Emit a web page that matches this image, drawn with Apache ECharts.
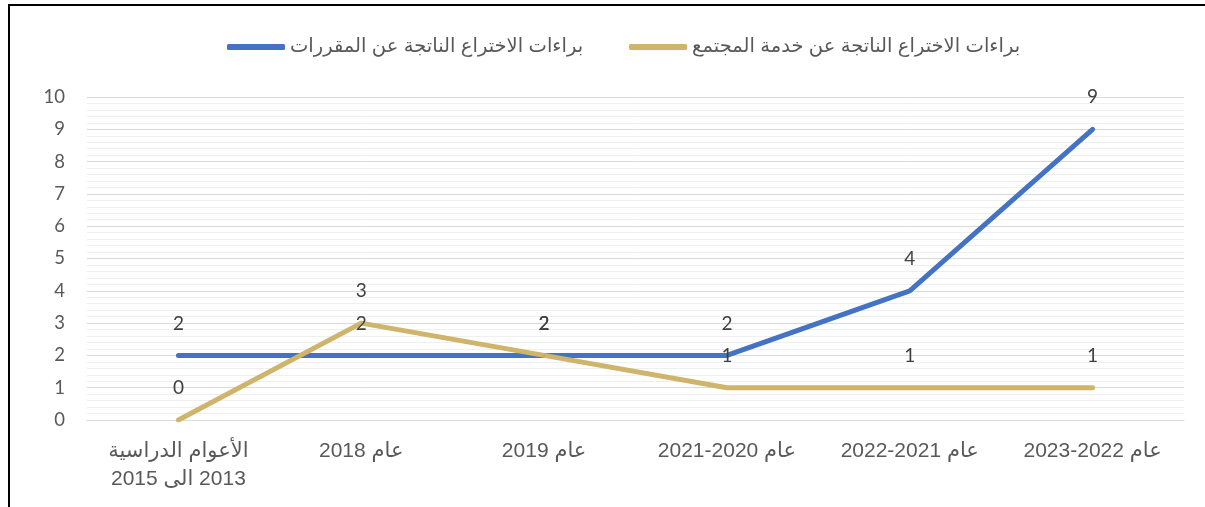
<!DOCTYPE html>
<html>
<head>
<meta charset="utf-8">
<script src="https://cdn.jsdelivr.net/npm/echarts@6/dist/echarts.min.js"></script>
<style>
  html, body { margin: 0; padding: 0; background: #fff; }
  #main { width: 1205px; height: 507px; }
</style>
</head>
<body>
<div id="main"></div>
<script>
// categories (visual order; leading LRM forces a left-to-right line)
var categories = ['الأعوام الدراسية\n\u200E2015 الى\u200E 2013', '\u200E2018 عام', '\u200E2019 عام', '\u200E2021-2020 عام', '\u200E2022-2021 عام', '\u200E2023-2022 عام']
var seriesNames = ['براءات الاختراع الناتجة عن المقررات', 'براءات الاختراع الناتجة عن خدمة المجتمع']
var coursesData = [2, 2, 2, 2, 4, 9]
var communityData = [0, 3, 2, 1, 1, 1]

var myChart = echarts.init(document.getElementById('main'))

var labelStyle = {
    show: true,
    position: 'top',
    distance: 22,
    color: '#404040',
    fontSize: 19,
    fontFamily: 'Lato, "Open Sans", sans-serif'
}

var option = {
    animation: false,
    color: ['#4472C4', '#CFB46B'],
    legend: {
        left: 222,
        top: 32,
        itemWidth: 58,
        itemHeight: 6,
        itemGap: 46,
        icon: 'roundRect',
        textStyle: {
            color: '#595959',
            fontSize: 19.5,
            fontFamily: '"Liberation Sans", "DejaVu Sans", sans-serif'
        },
        data: seriesNames
    },
    grid: {
        left: 87,
        right: 21,
        top: 97,
        bottom: 87
    },
    xAxis: {
        type: 'category',
        data: categories,
        boundaryGap: true,
        axisLine: { lineStyle: { color: '#d9d9d9', width: 1 } },
        axisTick: { show: false },
        axisLabel: {
            margin: 17,
            color: '#595959',
            fontSize: 21,
            lineHeight: 28,
            fontFamily: '"Liberation Sans", "DejaVu Sans", sans-serif',
            interval: 0
        }
    },
    yAxis: {
        type: 'value',
        min: 0,
        max: 10,
        interval: 1,
        axisLabel: {
            margin: 22,
            color: '#595959',
            fontSize: 18.5,
            fontFamily: 'Lato, "Open Sans", sans-serif'
        },
        axisLine: { show: false },
        axisTick: { show: false },
        splitLine: { lineStyle: { color: '#d9d9d9', width: 1 } },
        minorTick: { show: false, splitNumber: 5 },
        minorSplitLine: { show: true, lineStyle: { color: '#efefef', width: 1 } }
    },
    series: [{
        name: seriesNames[0],
        type: 'line',
        data: coursesData,
        symbol: 'circle',
        symbolSize: 1,
        lineStyle: { width: 5, cap: 'round', join: 'round' },
        label: labelStyle
    }, {
        name: seriesNames[1],
        type: 'line',
        data: communityData,
        symbol: 'circle',
        symbolSize: 1,
        lineStyle: { width: 5, cap: 'round', join: 'round' },
        label: labelStyle
    }],
    graphic: [{
        type: 'line',
        shape: { x1: 8, y1: 5, x2: 1205, y2: 5 },
        style: { stroke: '#000', lineWidth: 2 }
    }, {
        type: 'line',
        shape: { x1: 9, y1: 4, x2: 9, y2: 507 },
        style: { stroke: '#000', lineWidth: 2 }
    }]
}

myChart.setOption(option)
</script>
</body>
</html>
